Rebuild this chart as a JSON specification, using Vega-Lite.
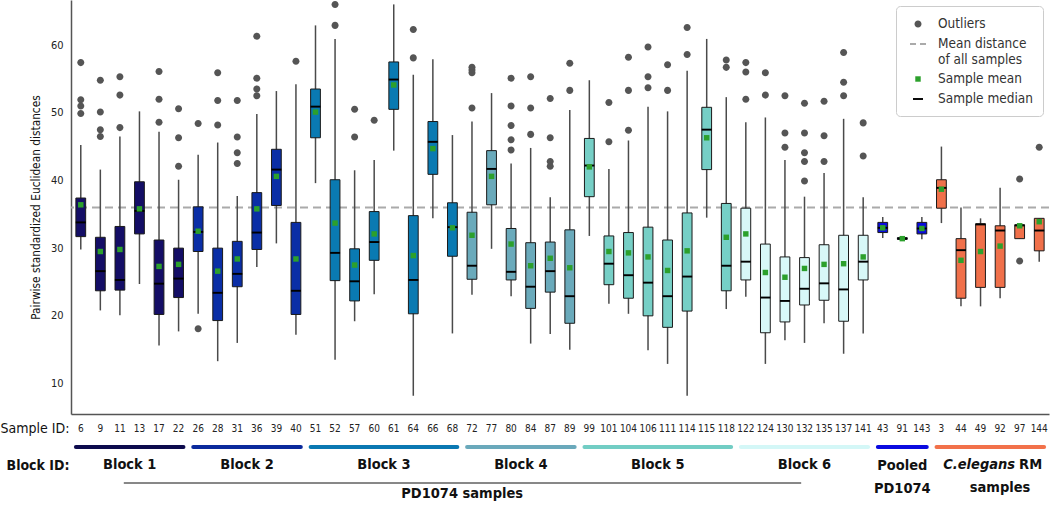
{
  "$schema": "https://vega.github.io/schema/vega-lite/v6.json",
  "padding": {"left": 0, "top": 0, "right": 0, "bottom": 0},
  "spacing": 0,
  "config": {"view": {"stroke": null}, "font": "DejaVu Sans Condensed, Roboto, sans-serif", "axis": {"grid": false}},
  "datasets": {
    "boxes": [
      {"id":"6","block":"Block 1","lo":29.8,"q1":31.7,"med":33.8,"q3":37.4,"hi":45.25,"mean":36.4},
      {"id":"9","block":"Block 1","lo":20.8,"q1":23.7,"med":26.6,"q3":31.6,"hi":41.6,"mean":29.5},
      {"id":"11","block":"Block 1","lo":20.1,"q1":23.8,"med":25.3,"q3":33.2,"hi":46.5,"mean":29.8},
      {"id":"13","block":"Block 1","lo":24.7,"q1":32.1,"med":35.5,"q3":39.8,"hi":50.2,"mean":35.8},
      {"id":"17","block":"Block 1","lo":15.6,"q1":20.2,"med":24.75,"q3":31.2,"hi":47.2,"mean":27.3},
      {"id":"22","block":"Block 1","lo":17.7,"q1":22.7,"med":25.5,"q3":30.0,"hi":40.1,"mean":27.6},
      {"id":"26","block":"Block 2","lo":20.3,"q1":29.5,"med":32.4,"q3":36.1,"hi":43.8,"mean":32.5},
      {"id":"28","block":"Block 2","lo":13.3,"q1":19.3,"med":23.4,"q3":30.0,"hi":45.6,"mean":26.6},
      {"id":"31","block":"Block 2","lo":16.0,"q1":24.3,"med":26.2,"q3":31.0,"hi":37.7,"mean":28.4},
      {"id":"36","block":"Block 2","lo":27.2,"q1":29.8,"med":32.3,"q3":38.2,"hi":49.8,"mean":35.8},
      {"id":"39","block":"Block 2","lo":30.7,"q1":36.3,"med":41.6,"q3":44.6,"hi":53.2,"mean":40.6},
      {"id":"40","block":"Block 2","lo":17.2,"q1":20.2,"med":23.7,"q3":33.8,"hi":54.2,"mean":28.4},
      {"id":"51","block":"Block 3","lo":39.6,"q1":46.3,"med":50.9,"q3":53.5,"hi":62.9,"mean":50.1},
      {"id":"52","block":"Block 3","lo":13.5,"q1":25.2,"med":29.3,"q3":40.1,"hi":60.9,"mean":33.7},
      {"id":"57","block":"Block 3","lo":19.2,"q1":22.2,"med":25.1,"q3":29.9,"hi":41.5,"mean":27.5},
      {"id":"60","block":"Block 3","lo":23.2,"q1":28.2,"med":30.9,"q3":35.4,"hi":43.0,"mean":32.1},
      {"id":"61","block":"Block 3","lo":44.4,"q1":50.5,"med":54.9,"q3":57.5,"hi":66.0,"mean":54.1},
      {"id":"64","block":"Block 3","lo":8.2,"q1":20.3,"med":25.3,"q3":34.8,"hi":55.6,"mean":28.9},
      {"id":"66","block":"Block 3","lo":34.4,"q1":40.9,"med":45.7,"q3":48.7,"hi":57.9,"mean":44.7},
      {"id":"68","block":"Block 3","lo":17.4,"q1":28.8,"med":33.1,"q3":36.7,"hi":46.7,"mean":33.0},
      {"id":"72","block":"Block 4","lo":23.1,"q1":25.4,"med":27.4,"q3":35.3,"hi":48.7,"mean":31.9},
      {"id":"77","block":"Block 4","lo":29.9,"q1":36.4,"med":41.7,"q3":44.4,"hi":52.9,"mean":40.6},
      {"id":"80","block":"Block 4","lo":22.9,"q1":25.3,"med":26.5,"q3":32.9,"hi":42.5,"mean":30.6},
      {"id":"84","block":"Block 4","lo":15.9,"q1":21.1,"med":24.3,"q3":30.8,"hi":44.8,"mean":27.4},
      {"id":"87","block":"Block 4","lo":17.3,"q1":23.5,"med":26.6,"q3":30.9,"hi":37.5,"mean":28.5},
      {"id":"89","block":"Block 4","lo":15.0,"q1":18.9,"med":22.9,"q3":32.7,"hi":50.4,"mean":27.1},
      {"id":"99","block":"Block 5","lo":31.8,"q1":37.6,"med":42.2,"q3":46.2,"hi":54.8,"mean":42.0},
      {"id":"101","block":"Block 5","lo":21.8,"q1":24.6,"med":27.7,"q3":31.8,"hi":41.7,"mean":29.5},
      {"id":"104","block":"Block 5","lo":20.3,"q1":22.6,"med":26.0,"q3":32.3,"hi":45.9,"mean":29.3},
      {"id":"106","block":"Block 5","lo":14.9,"q1":20.0,"med":24.9,"q3":33.1,"hi":50.9,"mean":28.7},
      {"id":"111","block":"Block 5","lo":12.9,"q1":18.3,"med":22.9,"q3":31.2,"hi":50.2,"mean":26.7},
      {"id":"114","block":"Block 5","lo":8.2,"q1":20.7,"med":25.8,"q3":35.2,"hi":56.2,"mean":29.6},
      {"id":"115","block":"Block 5","lo":34.5,"q1":41.6,"med":47.5,"q3":50.8,"hi":60.9,"mean":46.3},
      {"id":"118","block":"Block 5","lo":21.0,"q1":23.7,"med":27.4,"q3":36.6,"hi":52.3,"mean":31.6},
      {"id":"122","block":"Block 6","lo":22.8,"q1":25.3,"med":28.0,"q3":35.9,"hi":48.6,"mean":32.1},
      {"id":"124","block":"Block 6","lo":12.9,"q1":17.5,"med":22.7,"q3":30.6,"hi":49.3,"mean":26.4},
      {"id":"130","block":"Block 6","lo":16.4,"q1":19.1,"med":22.2,"q3":28.7,"hi":43.0,"mean":25.7},
      {"id":"132","block":"Block 6","lo":16.0,"q1":21.6,"med":24.0,"q3":28.6,"hi":37.6,"mean":27.0},
      {"id":"135","block":"Block 6","lo":18.9,"q1":22.3,"med":24.8,"q3":30.5,"hi":41.1,"mean":27.6},
      {"id":"137","block":"Block 6","lo":14.4,"q1":19.2,"med":23.9,"q3":31.9,"hi":49.1,"mean":27.7},
      {"id":"141","block":"Block 6","lo":17.4,"q1":25.3,"med":28.0,"q3":31.9,"hi":37.5,"mean":28.7},
      {"id":"43","block":"Pooled","lo":31.5,"q1":32.3,"med":33.0,"q3":33.8,"hi":34.6,"mean":33.0},
      {"id":"91","block":"Pooled","lo":31.25,"q1":31.3,"med":31.4,"q3":31.55,"hi":31.6,"mean":31.4},
      {"id":"143","block":"Pooled","lo":31.3,"q1":32.1,"med":32.9,"q3":33.8,"hi":34.6,"mean":32.9},
      {"id":"3","block":"RM","lo":33.7,"q1":35.9,"med":38.9,"q3":40.1,"hi":45.0,"mean":38.7},
      {"id":"44","block":"RM","lo":21.4,"q1":22.6,"med":29.7,"q3":31.4,"hi":36.0,"mean":28.2},
      {"id":"49","block":"RM","lo":21.4,"q1":24.2,"med":33.5,"q3":33.6,"hi":34.4,"mean":29.5},
      {"id":"92","block":"RM","lo":22.6,"q1":24.2,"med":32.6,"q3":33.3,"hi":38.9,"mean":30.3},
      {"id":"97","block":"RM","lo":31.4,"q1":31.4,"med":33.35,"q3":33.45,"hi":33.45,"mean":33.3},
      {"id":"144","block":"RM","lo":28.0,"q1":29.6,"med":32.6,"q3":34.4,"hi":34.4,"mean":33.9}
    ],
    "outliers": [
      {"id":"6","value":57.4},{"id":"6","value":51.9},{"id":"6","value":51.0},{"id":"6","value":49.9},
      {"id":"9","value":54.8},{"id":"9","value":50.1},{"id":"9","value":47.5},{"id":"9","value":46.5},
      {"id":"11","value":55.3},{"id":"11","value":52.6},{"id":"11","value":47.8},
      {"id":"17","value":56.1},{"id":"17","value":52.0},{"id":"17","value":48.6},
      {"id":"22","value":50.6},{"id":"22","value":46.3},{"id":"22","value":42.1},
      {"id":"26","value":48.4},{"id":"26","value":18.1},
      {"id":"28","value":55.9},{"id":"28","value":51.8},{"id":"28","value":48.2},
      {"id":"31","value":51.8},{"id":"31","value":46.4},{"id":"31","value":44.1},{"id":"31","value":42.5},
      {"id":"36","value":61.3},{"id":"36","value":55.1},{"id":"36","value":53.5},{"id":"36","value":52.5},
      {"id":"40","value":57.6},
      {"id":"52","value":66.0},{"id":"52","value":62.9},
      {"id":"57","value":50.5},{"id":"57","value":46.4},
      {"id":"60","value":48.9},
      {"id":"64","value":62.3},{"id":"64","value":58.1},
      {"id":"72","value":56.7},{"id":"72","value":56.3},{"id":"72","value":55.9},{"id":"72","value":50.7},
      {"id":"80","value":55.1},{"id":"80","value":51.0},{"id":"80","value":48.1},{"id":"80","value":46.0},{"id":"80","value":44.5},
      {"id":"84","value":55.3},{"id":"84","value":50.7},{"id":"84","value":46.8},
      {"id":"87","value":52.1},{"id":"87","value":46.3},{"id":"87","value":42.8},{"id":"87","value":42.1},
      {"id":"89","value":57.3},{"id":"89","value":53.3},
      {"id":"101","value":51.5},{"id":"101","value":45.7},
      {"id":"104","value":58.2},{"id":"104","value":53.3},{"id":"104","value":47.4},
      {"id":"106","value":59.7},{"id":"106","value":55.3},{"id":"106","value":53.7},
      {"id":"111","value":57.1},{"id":"111","value":53.3},
      {"id":"114","value":62.6},{"id":"114","value":58.6},
      {"id":"118","value":57.8},{"id":"118","value":56.7},
      {"id":"122","value":57.4},{"id":"122","value":56.0},{"id":"122","value":52.0},
      {"id":"124","value":55.9},{"id":"124","value":52.6},
      {"id":"130","value":52.5},{"id":"130","value":47.0},{"id":"130","value":44.9},
      {"id":"132","value":51.4},{"id":"132","value":47.0},{"id":"132","value":44.1},{"id":"132","value":42.8},{"id":"132","value":39.9},
      {"id":"135","value":51.7},{"id":"135","value":46.6},{"id":"135","value":42.8},
      {"id":"137","value":58.9},{"id":"137","value":54.5},{"id":"137","value":52.5},
      {"id":"141","value":48.5},{"id":"141","value":43.6},
      {"id":"97","value":40.2},{"id":"97","value":28.1},
      {"id":"144","value":44.9}
    ]
  },
  "vconcat": [
    {
      "width": 978,
      "height": 414,
      "layer": [
        {
          "data": {"name": "outliers"},
          "mark": {"type": "point", "filled": true, "opacity": 1, "strokeWidth": 0, "size": 256},
          "encoding": {
            "x": {"field": "id", "type": "nominal", "scale": {"type": "band", "paddingInner": 0, "paddingOuter": 0, "domain": ["6","9","11","13","17","22","26","28","31","36","39","40","51","52","57","60","61","64","66","68","72","77","80","84","87","89","99","101","104","106","111","114","115","118","122","124","130","132","135","137","141","43","91","143","3","44","49","92","97","144"]}, "axis": {"labels": false, "ticks": false, "title": null, "domainColor": "#555555", "domainWidth": 1.5}},
            "y": {"field": "value", "type": "quantitative", "title": "Pairwise standardized Euclidean distances", "scale": {"domain": [5.5, 66.65], "nice": false, "zero": false}, "axis": {"values": [10, 20, 30, 40, 50, 60], "ticks": false, "domainColor": "#555555", "domainWidth": 1.5, "labelPadding": 8, "labelFontSize": 11, "labelColor": "#222222", "titleFontSize": 11.8, "titleFontWeight": "normal", "titleColor": "#111111", "titlePadding": 9}},
            "color": {"datum": "Outliers", "type": "nominal", "scale": {"domain": ["Outliers", "Mean distance of all samples", "Sample mean", "Sample median"], "range": ["#555555", "#aaaaaa", "#2ca02c", "#000000"]}, "legend": {"title": null, "orient": "top-right", "offset": 6, "padding": 10, "strokeColor": "#cccccc", "cornerRadius": 4, "fillColor": "#ffffff", "labelFontSize": 13.5, "labelColor": "#333333", "symbolSize": 256, "symbolStrokeWidth": 0, "symbolOffset": 4, "labelOffset": 12, "rowPadding": 5, "symbolOpacity": 1, "labelExpr": "datum.label == 'Mean distance of all samples' ? ['Mean distance', 'of all samples'] : datum.label"}},
            "shape": {"datum": "Outliers", "type": "nominal", "scale": {"domain": ["Outliers", "Mean distance of all samples", "Sample mean", "Sample median"], "range": ["M0.44,0A0.44,0.44,0,1,1,-0.44,0A0.44,0.44,0,1,1,0.44,0Z", "M-1,-0.12H-0.25V0.12H-1ZM0.25,-0.12H1V0.12H0.25Z", "M-0.34,-0.34H0.34V0.34H-0.34Z", "M-0.625,-0.12H0.625V0.12H-0.625Z"]}, "legend": {"title": null, "orient": "top-right"}}
          }
        },
        {
          "data": {"values": [{"stat": "Mean distance of all samples", "value": 36.0}]},
          "mark": {"type": "rule", "strokeDash": [8, 5], "strokeWidth": 1.8},
          "encoding": {
            "y": {"field": "value", "type": "quantitative", "title": "Pairwise standardized Euclidean distances"},
            "color": {"datum": "Mean distance of all samples", "type": "nominal"}
          }
        },
        {
          "data": {"name": "boxes"},
          "mark": {"type": "rule", "color": "#4a4a4a", "strokeWidth": 1.5},
          "encoding": {
            "x": {"field": "id", "type": "nominal"},
            "y": {"field": "lo", "type": "quantitative", "title": "Pairwise standardized Euclidean distances"},
            "y2": {"field": "hi"}
          }
        },
        {
          "data": {"name": "boxes"},
          "mark": {"type": "bar", "width": {"band": 0.5}, "stroke": "#1a1a1a", "strokeWidth": 1},
          "encoding": {
            "x": {"field": "id", "type": "nominal"},
            "y": {"field": "q1", "type": "quantitative", "title": "Pairwise standardized Euclidean distances"},
            "y2": {"field": "q3"},
            "fill": {"field": "block", "type": "nominal", "legend": null, "scale": {"domain": ["Block 1", "Block 2", "Block 3", "Block 4", "Block 5", "Block 6", "Pooled", "RM"], "range": ["#140e66", "#0a2ea6", "#0a7ab2", "#6aaabb", "#76cfc6", "#d8f8f8", "#0a0adc", "#f0704a"]}}
          }
        },
        {
          "data": {"name": "boxes"},
          "mark": {"type": "point", "filled": true, "opacity": 1, "strokeWidth": 0, "size": 256},
          "encoding": {
            "x": {"field": "id", "type": "nominal"},
            "y": {"field": "med", "type": "quantitative", "title": "Pairwise standardized Euclidean distances"},
            "color": {"datum": "Sample median", "type": "nominal"},
            "shape": {"datum": "Sample median", "type": "nominal"}
          }
        },
        {
          "data": {"name": "boxes"},
          "mark": {"type": "point", "filled": true, "opacity": 1, "strokeWidth": 0, "size": 256},
          "encoding": {
            "x": {"field": "id", "type": "nominal"},
            "y": {"field": "mean", "type": "quantitative", "title": "Pairwise standardized Euclidean distances"},
            "color": {"datum": "Sample mean", "type": "nominal"},
            "shape": {"datum": "Sample mean", "type": "nominal"}
          }
        }
      ]
    },
    {
      "width": 978,
      "height": 84,
      "layer": [
        {
          "data": {"name": "boxes"},
          "mark": {"type": "text", "fontSize": 10, "color": "#222222", "baseline": "middle"},
          "encoding": {
            "x": {"field": "id", "type": "nominal", "axis": null, "scale": {"type": "band", "paddingInner": 0, "paddingOuter": 0, "domain": ["6","9","11","13","17","22","26","28","31","36","39","40","51","52","57","60","61","64","66","68","72","77","80","84","87","89","99","101","104","106","111","114","115","118","122","124","130","132","135","137","141","43","91","143","3","44","49","92","97","144"]}},
            "y": {"datum": "Sample ID:", "type": "ordinal", "scale": {"type": "point", "domain": ["Sample ID:", "bar", "Block ID:", "line"], "padding": 0.833}, "axis": {"title": null, "domain": false, "ticks": false, "labelPadding": 2, "labelFontSize": 14, "labelColor": "#111111", "labelFontWeight": {"condition": {"test": "datum.label == 'Block ID:'", "value": "bold"}, "value": "normal"}, "labelExpr": "datum.label == 'bar' || datum.label == 'line' ? '' : datum.label"}},
            "text": {"field": "id", "type": "nominal"}
          }
        },
        {
          "data": {"values": [
            {"group": "Block 1", "first": "6", "last": "22"},
            {"group": "Block 2", "first": "26", "last": "40"},
            {"group": "Block 3", "first": "51", "last": "68"},
            {"group": "Block 4", "first": "72", "last": "89"},
            {"group": "Block 5", "first": "99", "last": "118"},
            {"group": "Block 6", "first": "122", "last": "141"},
            {"group": "Pooled", "first": "43", "last": "143"},
            {"group": "RM", "first": "3", "last": "144"}
          ]},
          "mark": {"type": "rule", "strokeWidth": 4, "strokeCap": "round"},
          "encoding": {
            "x": {"field": "first", "type": "nominal", "bandPosition": 0.25},
            "x2": {"field": "last", "bandPosition": 0.75},
            "y": {"datum": "bar", "type": "ordinal"},
            "stroke": {"field": "group", "type": "nominal", "legend": null, "scale": {"domain": ["Block 1", "Block 2", "Block 3", "Block 4", "Block 5", "Block 6", "Pooled", "RM"], "range": ["#0d0b4d", "#0a2a9c", "#0a78b2", "#6aa9bb", "#72cdc4", "#d4f7f7", "#0a0ae0", "#f2714a"]}}
          }
        },
        {
          "data": {"values": [
            {"label": "Block 1", "at": "13"},
            {"label": "Block 2", "at": "36"},
            {"label": "Block 3", "at": "61"},
            {"label": "Block 4", "at": "84"},
            {"label": "Block 5", "at": "111"}
          ]},
          "mark": {"type": "text", "fontSize": 14.5, "fontWeight": "bold", "color": "#111111", "baseline": "middle"},
          "encoding": {
            "x": {"field": "at", "type": "nominal", "bandPosition": 0},
            "y": {"datum": "Block ID:", "type": "ordinal"},
            "text": {"field": "label", "type": "nominal"}
          }
        },
        {
          "data": {"values": [
            {"label": "Block 6", "at": "132"}
          ]},
          "mark": {"type": "text", "fontSize": 14.5, "fontWeight": "bold", "color": "#111111", "baseline": "middle"},
          "encoding": {
            "x": {"field": "at", "type": "nominal", "bandPosition": 0.5},
            "y": {"datum": "Block ID:", "type": "ordinal"},
            "text": {"field": "label", "type": "nominal"}
          }
        },
        {
          "data": {"values": [
            {"label": "Pooled\nPD1074", "at": "91"}
          ]},
          "mark": {"type": "text", "fontSize": 14.5, "fontWeight": "bold", "color": "#111111", "baseline": "top", "dy": -6, "lineBreak": "\n", "lineHeight": 23},
          "encoding": {
            "x": {"field": "at", "type": "nominal", "bandPosition": 0.5},
            "y": {"datum": "Block ID:", "type": "ordinal"},
            "text": {"field": "label", "type": "nominal"}
          }
        },
        {
          "data": {"values": [{"label": "C.elegans", "at": "92"}]},
          "mark": {"type": "text", "fontSize": 14.5, "fontWeight": "bold", "fontStyle": "italic", "color": "#111111", "baseline": "middle", "align": "right", "dx": 15},
          "encoding": {
            "x": {"field": "at", "type": "nominal", "bandPosition": 0.5},
            "y": {"datum": "Block ID:", "type": "ordinal"},
            "text": {"field": "label", "type": "nominal"}
          }
        },
        {
          "data": {"values": [{"label": "RM", "at": "92"}]},
          "mark": {"type": "text", "fontSize": 14.5, "fontWeight": "bold", "color": "#111111", "baseline": "middle", "align": "left", "dx": 19},
          "encoding": {
            "x": {"field": "at", "type": "nominal", "bandPosition": 0.5},
            "y": {"datum": "Block ID:", "type": "ordinal"},
            "text": {"field": "label", "type": "nominal"}
          }
        },
        {
          "data": {"values": [{"label": "samples", "at": "92"}]},
          "mark": {"type": "text", "fontSize": 14.5, "fontWeight": "bold", "color": "#111111", "baseline": "middle", "dy": 23},
          "encoding": {
            "x": {"field": "at", "type": "nominal", "bandPosition": 0.5},
            "y": {"datum": "Block ID:", "type": "ordinal"},
            "text": {"field": "label", "type": "nominal"}
          }
        },
        {
          "data": {"values": [{"label": "PD1074 samples", "first": "11", "last": "132"}]},
          "mark": {"type": "rule", "strokeWidth": 1, "color": "#111111"},
          "encoding": {
            "x": {"field": "first", "type": "nominal", "bandPosition": 0.7},
            "x2": {"field": "last", "bandPosition": 0.33},
            "y": {"datum": "line", "type": "ordinal"}
          }
        },
        {
          "data": {"values": [{"label": "PD1074 samples", "at": "72"}]},
          "mark": {"type": "text", "fontSize": 14.5, "fontWeight": "bold", "color": "#111111", "baseline": "middle", "dy": 11},
          "encoding": {
            "x": {"field": "at", "type": "nominal", "bandPosition": 0},
            "y": {"datum": "line", "type": "ordinal"},
            "text": {"field": "label", "type": "nominal"}
          }
        }
      ]
    }
  ]
}
